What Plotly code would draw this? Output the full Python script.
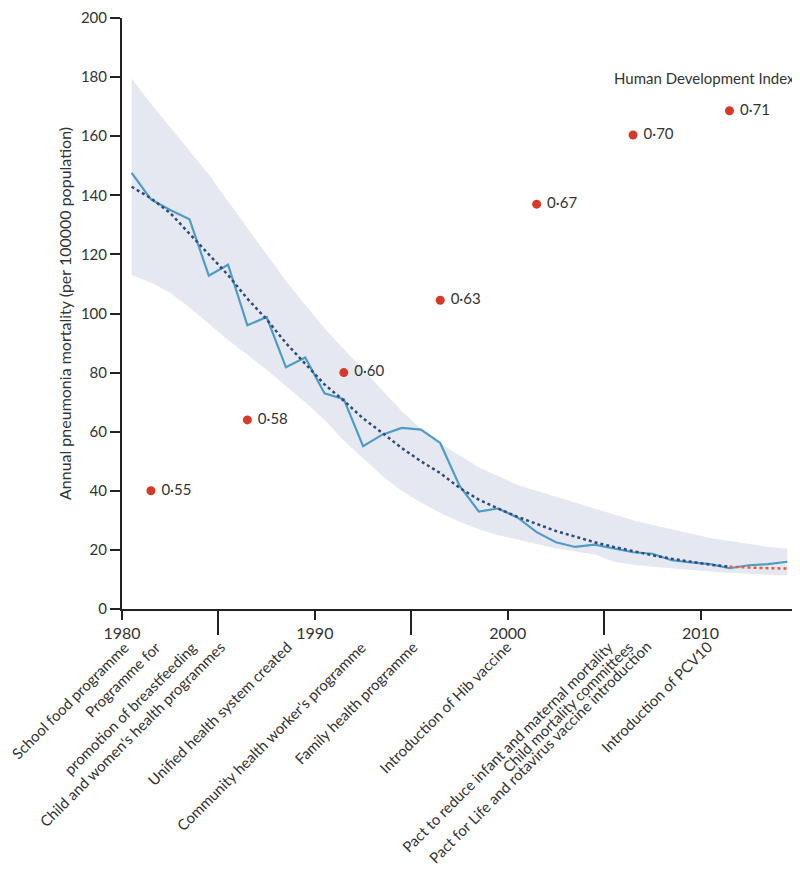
import plotly.graph_objects as go

# ---- data ----
years = list(range(1980, 2015))  # plotted at mid-year
mortality = [147.6, 138.6, 135.0, 131.9, 112.8, 116.5, 96.0, 98.8, 81.8, 85.1,
             73.0, 71.0, 55.1, 59.0, 61.3, 60.7, 56.2, 41.7, 33.0, 34.0,
             31.0, 26.0, 22.6, 21.0, 21.8, 20.4, 19.2, 18.7, 16.5, 15.8,
             15.2, 13.8, 14.8, 15.2, 16.0]
trend = [142.9, 139.0, 134.0, 127.0, 120.0, 113.0, 105.0, 98.0, 90.0, 83.0,
         76.0, 70.5, 64.5, 59.6, 54.5, 50.0, 46.0, 41.0, 37.0, 34.0,
         31.2, 28.8, 26.4, 24.5, 22.6, 21.0, 19.5, 18.2, 17.0, 16.0,
         15.0, 14.3, 14.0, 13.8, 13.7]
upper = [179.5, 171.0, 163.0, 155.0, 147.0, 138.0, 129.0, 120.0, 111.0, 103.0,
         95.0, 88.0, 81.0, 74.0, 67.0, 61.0, 56.0, 52.0, 48.0, 45.0,
         42.0, 40.0, 38.0, 36.0, 34.0, 32.0, 30.0, 28.5, 27.0, 25.5,
         24.0, 23.0, 22.0, 21.0, 20.5]
lower = [113.0, 110.5, 107.0, 102.0, 96.5, 91.0, 86.0, 81.0, 75.5, 70.0,
         64.0, 57.0, 51.0, 45.0, 40.0, 36.0, 32.5, 29.5, 27.0, 25.0,
         23.5, 22.0, 20.5, 19.5, 18.5, 16.0, 15.0, 14.3, 13.7, 13.2,
         12.7, 12.3, 11.9, 11.6, 11.4]

hdi_years = [1981, 1986, 1991, 1996, 2001, 2006, 2011]
hdi_pos = [40, 64, 80, 104.5, 137, 160.4, 168.6]
hdi_labels = ["0·55", "0·58", "0·60", "0·63", "0·67", "0·70", "0·71"]

event_years = [1980.69, 1982.33, 1984.2, 1985.65, 1989.15, 1992.95, 1995.63,
               2000.5, 2005.75, 2006.8, 2007.75, 2010.9]
event_labels = ["School food programme", "Programme for", "promotion of breastfeeding",
                "Child and women's health programmes", "Unified health system created",
                "Community health worker's programme", "Family health programme",
                "Introduction of Hib vaccine", "Pact to reduce infant and maternal mortality",
                "Child mortality committees", "Pact for Life and rotavirus vaccine introduction",
                "Introduction of PCV10"]

x_tickvals = [1980, 1990, 2000, 2010, 2015]
x_ticktext = ["1980", "1990", "2000", "2010", ""]
x_minor = [1985, 1995, 2005]
y_tickvals = list(range(0, 201, 20))

FONT = "Lato, 'Open Sans', sans-serif"
TXT = "#333333"
FS = 16

xs = [y + 0.5 for y in years]
red_start = 31

fig = go.Figure()
fig.add_trace(go.Scatter(x=xs, y=lower, mode="lines", line=dict(width=0),
                         hoverinfo="skip", showlegend=False))
fig.add_trace(go.Scatter(x=xs, y=upper, mode="lines", line=dict(width=0),
                         fill="tonexty", fillcolor="#e5e8f1",
                         hoverinfo="skip", showlegend=False))
fig.add_trace(go.Scatter(x=xs, y=mortality, mode="lines",
                         line=dict(color="#4e9cc6", width=2.2), showlegend=False))
fig.add_trace(go.Scatter(x=xs[:red_start + 1], y=trend[:red_start + 1], mode="lines",
                         line=dict(color="#2f4b7c", width=2.5, dash="dot"), showlegend=False))
fig.add_trace(go.Scatter(x=xs[red_start:], y=trend[red_start:], mode="lines",
                         line=dict(color="#e0603c", width=2.5, dash="dot"), showlegend=False))
fig.add_trace(go.Scatter(x=[h + 0.5 for h in hdi_years], y=hdi_pos, mode="markers+text",
                         marker=dict(color="#d83a2a", size=9),
                         text=[" " + t for t in hdi_labels], textposition="middle right",
                         textfont=dict(family=FONT, size=15, color=TXT),
                         showlegend=False))

fig.add_annotation(x=1, xref="paper", y=180, yref="y", text="Human Development Index",
                   showarrow=False, xanchor="right", yanchor="middle",
                   font=dict(family=FONT, size=15, color=TXT), yshift=-1, xshift=0)

for ex, lab in zip(event_years, event_labels):
    fig.add_annotation(x=ex, xref="x", y=0, yref="paper", yshift=-26, text=lab,
                       textangle=-45, showarrow=False, xanchor="right", yanchor="top",
                       font=dict(family=FONT, size=15, color=TXT))

fig.update_layout(
    width=792, height=861,
    margin=dict(l=114, r=3, t=10, b=260, autoexpand=False),
    plot_bgcolor="white", paper_bgcolor="white",
    font=dict(family=FONT, size=FS, color=TXT),
)
fig.update_xaxes(range=[1980, 2015], tickmode="array", tickvals=x_tickvals,
                 ticktext=x_ticktext, ticks="outside", ticklen=9, tickwidth=2,
                 tickcolor="#222", showline=True, linecolor="#222", linewidth=2,
                 showgrid=False, zeroline=False, ticklabeloverflow="allow",
                 automargin=False,
                 minor=dict(tickmode="array", tickvals=x_minor, ticks="outside",
                            ticklen=24, tickwidth=2, tickcolor="#222", showgrid=False),
                 tickfont=dict(family=FONT, size=FS, color=TXT))
fig.update_yaxes(range=[0, 200], tickmode="array", tickvals=y_tickvals,
                 ticks="outside", ticklen=10, tickwidth=2, tickcolor="#222",
                 showline=True, linecolor="#222", linewidth=2, showgrid=False,
                 zeroline=False, ticklabeloverflow="allow", automargin=False,
                 tickfont=dict(family=FONT, size=15, color=TXT),
                 title=dict(text="Annual pneumonia mortality (per 100000 population)",
                            font=dict(family=FONT, size=FS, color=TXT), standoff=5))

fig.write_html("out.html")
